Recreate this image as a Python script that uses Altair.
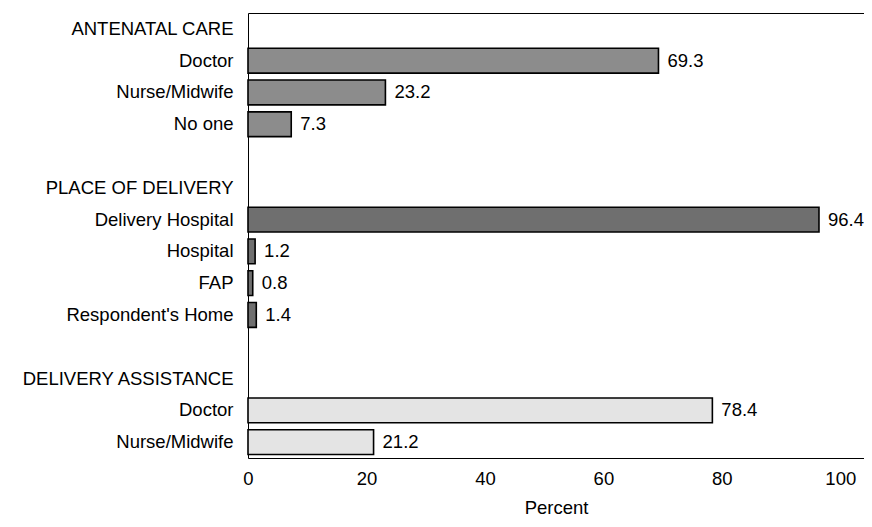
import altair as alt
import pandas as pd

# Row order on the y axis (key|label); blank rows carry empty labels
row_keys = [
    "ANTENATAL CARE|0", "Doctor|1", "Nurse/Midwife|1", "No one|1", "|a",
    "PLACE OF DELIVERY|0", "Delivery Hospital|2", "Hospital|2", "FAP|2",
    "Respondent's Home|2", "|b",
    "DELIVERY ASSISTANCE|0", "Doctor|3", "Nurse/Midwife|3",
]

# Bars
bar_keys = ["Doctor|1", "Nurse/Midwife|1", "No one|1",
            "Delivery Hospital|2", "Hospital|2", "FAP|2", "Respondent's Home|2",
            "Doctor|3", "Nurse/Midwife|3"]
bar_groups = ["Antenatal care"] * 3 + ["Place of delivery"] * 4 + ["Delivery assistance"] * 2
bar_values = [69.3, 23.2, 7.3, 96.4, 1.2, 0.8, 1.4, 78.4, 21.2]

group_names = ["Antenatal care", "Place of delivery", "Delivery assistance"]
group_fills = ["#8c8c8c", "#6f6f6f", "#e4e4e4"]

x_ticks = [0, 20, 40, 60, 80, 100]

df = pd.DataFrame({"key": bar_keys, "group": bar_groups, "value": bar_values})

FONT = "Liberation Sans"
FS = 18.5

y_scale = alt.Scale(domain=row_keys, paddingInner=0.22, paddingOuter=0.11)

y_enc = alt.Y(
    "key:N",
    sort=row_keys,
    scale=y_scale,
    axis=alt.Axis(
        title=None, ticks=False, domain=False, grid=False,
        labelExpr="split(datum.label, '|')[0]",
        labelFont=FONT, labelFontSize=FS, labelColor="black",
        labelPadding=15, labelLimit=300,
    ),
)

x_enc = alt.X(
    "value:Q",
    scale=alt.Scale(domain=[0, 104], nice=False),
    axis=alt.Axis(
        title="Percent", values=x_ticks, ticks=False, domain=False, grid=False,
        labelFont=FONT, labelFontSize=FS, labelColor="black", labelPadding=11,
        labelFlush=False,
        titleFont=FONT, titleFontSize=FS, titleFontWeight="normal",
        titleColor="black", titlePadding=11,
    ),
)

bars = alt.Chart(df).mark_bar(stroke="black", strokeWidth=1.6).encode(
    y=y_enc,
    x=x_enc,
    fill=alt.Fill("group:N", scale=alt.Scale(domain=group_names, range=group_fills), legend=None),
)

labels = alt.Chart(df).mark_text(
    align="left", baseline="middle", dx=9, font=FONT, fontSize=FS, color="black"
).encode(
    y=alt.Y("key:N", sort=row_keys, scale=y_scale),
    x=alt.X("value:Q"),
    text=alt.Text("value:Q", format=".1f"),
)

chart = (
    alt.layer(bars, labels)
    .properties(
        width=616, height=445,
        autosize=alt.AutoSizeParams(type="none"),
        padding={"left": 240, "top": 5, "right": 0, "bottom": 60},
        background="white",
    )
    .configure_view(stroke="black", strokeWidth=1)
)

chart.save("out.html", embed_options={"renderer": "svg", "actions": False})
